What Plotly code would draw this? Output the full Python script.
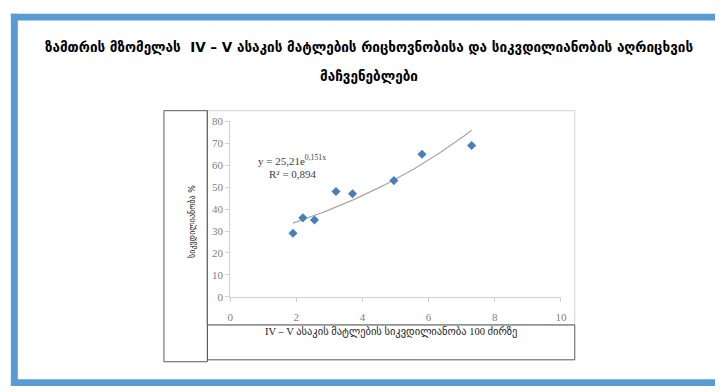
import numpy as np
import plotly.graph_objects as go

# ---- data ----
x_vals = [1.9, 2.2, 2.55, 3.2, 3.7, 4.95, 5.8, 7.3]
y_vals = [29, 36, 35, 48, 47, 53, 65, 69]
trend_a = 25.21
trend_b = 0.151
r2 = 0.894
x_ticks = [0, 2, 4, 6, 8, 10]
y_ticks = [0, 10, 20, 30, 40, 50, 60, 70, 80]

title_l1 = "ზამთრის მზომელას  IV – V ასაკის მატლების რიცხოვნობისა და სიკვდილიანობის აღრიცხვის"
title_l2 = "მაჩვენებლები"
y_label = "სიკვდილიანობა %"
x_label = "IV – V ასაკის მატლების სიკვდილიანობა 100 ძირზე"
eq_text = "y = 25,21e<sup>0,151x</sup>"
r2_text = "R² = 0,894"

W, H = 721, 392
def px(x):
    return x / W
def py(y):
    return (H - y) / H

tx = np.linspace(min(x_vals), max(x_vals), 100)
ty = trend_a * np.exp(trend_b * tx)

fig = go.Figure()
fig.add_trace(go.Scatter(x=tx, y=ty, mode="lines",
                         line=dict(color="#a6a6a6", width=1.2), hoverinfo="skip"))
fig.add_trace(go.Scatter(x=x_vals, y=y_vals, mode="markers",
                         marker=dict(symbol="diamond", size=7, color="#4a7ebb")))

serif = "Liberation Serif"
geo = "DejaVu Sans"

shapes = []
def rect(x0, y0, x1, y1, color, width=1, fill=None):
    shapes.append(dict(type="rect", xref="paper", yref="paper",
                       x0=px(x0), x1=px(x1), y0=py(y0), y1=py(y1),
                       line=dict(color=color, width=width),
                       fillcolor=fill if fill else "rgba(0,0,0,0)", layer="below"))
def blue(x0, y0, x1, y1):
    shapes.append(dict(type="rect", xref="paper", yref="paper",
                       x0=px(x0), x1=px(x1), y0=py(y0), y1=py(y1),
                       line=dict(width=0), fillcolor="#5b9bd5", layer="above"))

# blue frame
blue(8, 8, 721, 15)
blue(8, 8, 15, 392)
blue(8, 385, 721, 392)
# chart area
rect(206, 108, 579, 329, "#d0d0d0")
rect(163, 108, 207, 367, "#595959")
rect(207, 329, 579, 365, "#595959")

annotations = [
    dict(text="<b>" + title_l1 + "</b>", x=px(371), y=py(32), xref="paper", yref="paper",
         showarrow=False, font=dict(family=geo, size=13.5, color="#000000")),
    dict(text="<b>" + title_l2 + "</b>", x=px(371), y=py(62), xref="paper", yref="paper",
         showarrow=False, font=dict(family=geo, size=13.5, color="#000000")),
    dict(text=y_label, x=px(185), y=py(222), xref="paper", yref="paper", textangle=-90,
         showarrow=False, font=dict(family=geo, size=8, color="#222222")),
    dict(text=x_label, x=px(393), y=py(345), xref="paper", yref="paper",
         showarrow=False, font=dict(family="Liberation Serif, DejaVu Sans", size=10.5, color="#222222")),
    dict(text=eq_text, x=1.88, y=62.4, xref="x", yref="y",
         showarrow=False, font=dict(family=serif, size=11, color="#404040")),
    dict(text=r2_text, x=1.9, y=56.2, xref="x", yref="y",
         showarrow=False, font=dict(family=serif, size=11, color="#404040")),
]

fig.update_layout(
    width=W, height=H, margin=dict(l=0, r=0, t=0, b=0),
    paper_bgcolor="white", plot_bgcolor="white", showlegend=False,
    shapes=shapes, annotations=annotations,
    xaxis=dict(domain=[px(230), px(565)], range=[0, 10], tickvals=x_ticks,
               showgrid=False, zeroline=False, showline=True, linecolor="#d0d0d0",
               ticks="outside", ticklen=4, tickcolor="#d0d0d0", ticklabelstandoff=6,
               tickfont=dict(family=serif, size=11, color="#7f7f7f")),
    yaxis=dict(domain=[py(300), py(119)], range=[0, 80], tickvals=y_ticks,
               showgrid=False, zeroline=False, showline=True, linecolor="#d0d0d0",
               ticks="outside", ticklen=4, tickcolor="#d0d0d0",
               tickfont=dict(family=serif, size=11, color="#7f7f7f")),
)

fig.write_html("out.html")
